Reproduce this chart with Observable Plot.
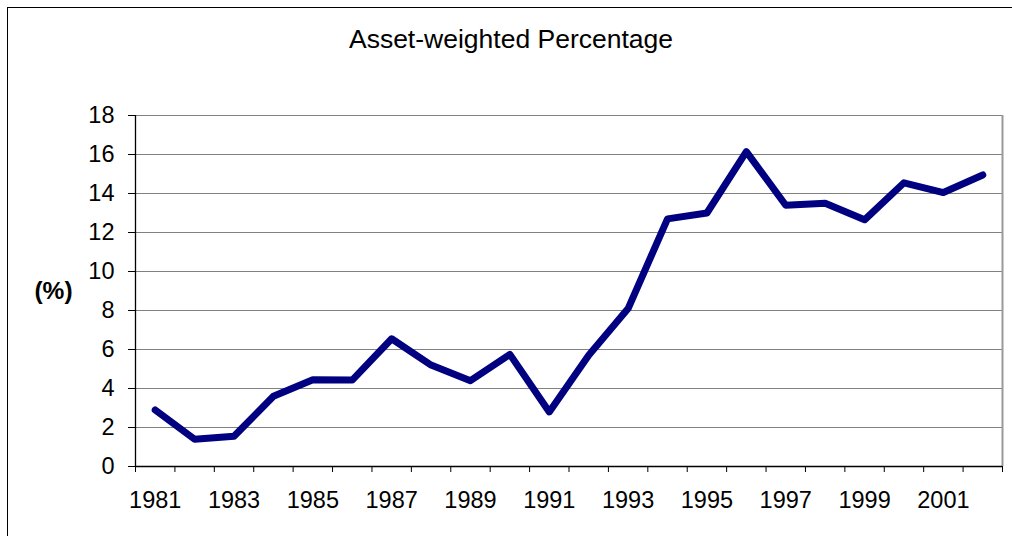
<!DOCTYPE html>
<html><head><meta charset="utf-8">
<script src="https://cdn.jsdelivr.net/npm/d3@7"></script>
<script src="https://cdn.jsdelivr.net/npm/@observablehq/plot@0.6"></script>
<style>
body{margin:0;overflow:hidden;background:#fff;font-family:"Liberation Sans",Arial,sans-serif}
#wrap{position:relative;width:1012px;height:536px;overflow:hidden}
#border{position:absolute;left:7px;top:7px;width:1100px;height:600px;border:1px solid #000}
#title{position:absolute;top:26px;left:0;width:1022px;text-align:center;font-size:26.5px;line-height:1;color:#000}
#chart{position:absolute;left:0;top:0}
</style></head><body>
<div id="wrap"><div id="border"></div><div id="chart"></div><div id="title">Asset-weighted Percentage</div></div>
<script>
const years = [1981,1982,1983,1984,1985,1986,1987,1988,1989,1990,1991,1992,1993,1994,1995,1996,1997,1998,1999,2000,2001,2002];
const values = [2.9,1.4,1.55,3.6,4.45,4.43,6.55,5.2,4.4,5.75,2.8,5.7,8.1,12.7,13.0,16.15,13.4,13.5,12.65,14.55,14.05,14.95];
const yTicks = [0,2,4,6,8,10,12,14,16,18];
const yearLabels = years.filter(y => y % 2 === 1);
const boundaries = [years[0] - 0.5, ...years.map(y => y + 0.5)];
const xDomain = [boundaries[0], boundaries[boundaries.length - 1]];
const data = years.map((year, i) => ({year, value: values[i]}));

const chart = Plot.plot({
  width: 1012, height: 536,
  marginTop: 115, marginLeft: 135, marginRight: 10, marginBottom: 70,
  style: {fontFamily: '"Liberation Sans", Arial, sans-serif', background: "transparent", color: "#000"},
  x: {domain: xDomain},
  y: {domain: [0, 18]},
  marks: [
    Plot.gridY(yTicks, {stroke: "#808080", strokeOpacity: 1, strokeWidth: 1.2}),
    Plot.ruleX([xDomain[1]], {stroke: "#999", strokeWidth: 2}),
    Plot.ruleX([xDomain[0]], {stroke: "#000", strokeWidth: 1.3}),
    Plot.ruleY([0], {stroke: "#000", strokeWidth: 1.3}),
    Plot.line(data, {x: "year", y: "value", stroke: "#000080", strokeWidth: 7, strokeLinejoin: "round", strokeLinecap: "round"}),
    Plot.axisY(yTicks, {tickSize: 7, tickPadding: 14, fontSize: 23.5, label: null, tickFormat: d => String(d)}),
    Plot.axisX(boundaries, {tickSize: 6, tickFormat: () => "", label: null}),
    Plot.axisX(yearLabels, {tickSize: 0, tickPadding: 25, fontSize: 23.5, tickFormat: d => String(d), label: null}),
    Plot.text(["(%)"], {frameAnchor: "left", dx: -82, textAnchor: "middle", fontSize: 24.5, fontWeight: "bold", text: d => d})
  ]
});
document.getElementById("chart").appendChild(chart);
</script>
</body></html>
